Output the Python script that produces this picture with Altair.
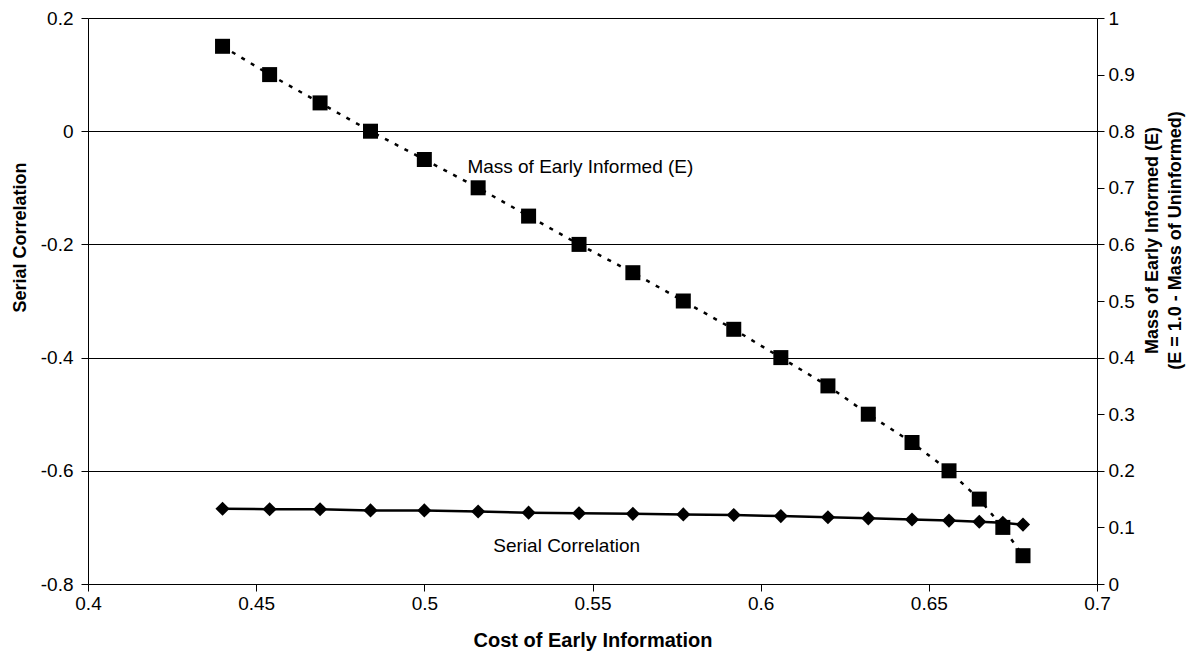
import altair as alt
import pandas as pd

# Cost of early information (x)
cost = [0.440, 0.454, 0.469, 0.484, 0.500, 0.516, 0.531, 0.546, 0.562, 0.577,
        0.592, 0.606, 0.620, 0.632, 0.645, 0.656, 0.665, 0.672, 0.678]
# Mass of early informed (right axis)
mass = [0.95, 0.90, 0.85, 0.80, 0.75, 0.70, 0.65, 0.60, 0.55, 0.50,
        0.45, 0.40, 0.35, 0.30, 0.25, 0.20, 0.15, 0.10, 0.05]
# Serial correlation (left axis)
serial = [-0.667, -0.668, -0.668, -0.670, -0.670, -0.672, -0.674, -0.675, -0.676, -0.677,
          -0.678, -0.680, -0.682, -0.684, -0.686, -0.688, -0.690, -0.692, -0.695]

left_ticks = [-0.8, -0.6, -0.4, -0.2, 0, 0.2]
right_ticks = [0, 0.1, 0.2, 0.3, 0.4, 0.5, 0.6, 0.7, 0.8, 0.9, 1]
x_ticks = [0.4, 0.45, 0.5, 0.55, 0.6, 0.65, 0.7]

ann_text = ["Mass of Early Informed (E)", "Serial Correlation"]
ann_cost = [0.5128, 0.5205]
ann_serial = [-0.063, -0.733]

df = pd.DataFrame({"cost": cost, "mass": mass, "serial": serial})
ann = pd.DataFrame({"cost": ann_cost, "serial": ann_serial, "label": ann_text})

FONT = "Liberation Sans"
fix_minus = "replace(datum.label, '\u2212', '-')"

x_enc = alt.X("cost:Q",
              scale=alt.Scale(domain=[0.4, 0.7], nice=False, zero=False),
              axis=alt.Axis(values=x_ticks, format="~g", labelFlush=False,
                            title="Cost of Early Information", titleFontSize=20,
                            grid=False, titleY=56, titleBaseline="middle"))

left_axis = alt.Axis(values=left_ticks, format="~g", labelFlush=False,
                     title="Serial Correlation", grid=True, labelPadding=8,
                     labelExpr=fix_minus, titleAngle=270, titleX=-68, titleY=219,
                     titleBaseline="middle", titleAlign="center")
y_left = alt.Y("serial:Q", scale=alt.Scale(domain=[-0.8, 0.2], nice=False, zero=False),
               axis=left_axis)

right_axis = alt.Axis(values=right_ticks, format="~g", labelFlush=False,
                      orient="right", grid=False, labelPadding=4,
                      title=["Mass of Early Informed (E)", "(E = 1.0 - Mass of Uninformed)"],
                      titleAngle=270, titleX=55, titleY=222, titleBaseline="middle",
                      titleAlign="center", titleLineHeight=23)
y_right = alt.Y("mass:Q", scale=alt.Scale(domain=[0, 1], nice=False, zero=False),
                axis=right_axis)

base = alt.Chart(df)

serial_line = base.mark_line(color="black", strokeWidth=2.5).encode(x=x_enc, y=y_left)
serial_pts = base.mark_point(shape="diamond", filled=True, size=200, color="black",
                             opacity=1).encode(x=x_enc, y=y_left)
ann_layer = alt.Chart(ann).mark_text(align="left", baseline="middle", font=FONT,
                                     fontSize=19, color="black").encode(
    x=x_enc, y=y_left, text="label:N")

mass_line = base.mark_line(color="black", strokeWidth=2.5, strokeDash=[4, 7]).encode(
    x=x_enc, y=y_right)
mass_pts = base.mark_point(shape="square", filled=True, size=225, color="black",
                           opacity=1).encode(x=x_enc, y=y_right)

left = alt.layer(serial_line, serial_pts, ann_layer)
right = alt.layer(mass_line, mass_pts)

chart = alt.layer(left, right).resolve_scale(y="independent").properties(
    width=1009, height=566,
    autosize=alt.AutoSizeParams(type="none"),
    padding={"left": 80, "top": 10, "right": 90, "bottom": 69},
    background="white",
).configure_view(stroke=None).configure_axis(
    domainColor="black", domainWidth=1, tickColor="black", tickWidth=1, tickSize=7,
    gridColor="black", gridWidth=1, gridOpacity=1,
    labelFont=FONT, labelFontSize=19, labelColor="black", labelPadding=3,
    titleFont=FONT, titleFontSize=18, titleFontWeight="bold", titleColor="black",
)

chart.save("out.html", embed_options={"renderer": "svg", "actions": False})
